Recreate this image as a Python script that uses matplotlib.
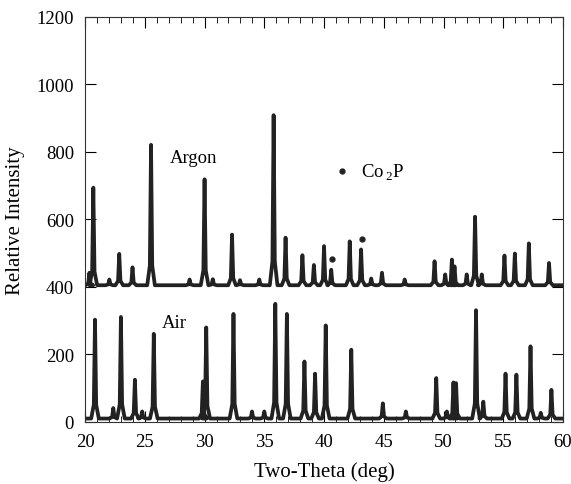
import numpy as np
import matplotlib
matplotlib.use('Agg')
import matplotlib.pyplot as plt
from matplotlib.ticker import MultipleLocator

plt.rcParams['font.family'] = ['Liberation Serif', 'DejaVu Serif']
plt.rcParams['mathtext.fontset'] = 'custom'
plt.rcParams['mathtext.rm'] = 'Liberation Serif'

# Argon pattern (offset +400): peak positions (deg) and peak tops (intensity)
argon_base = 405
argon_pos = [20.36, 20.69, 22.03, 22.86, 23.97, 25.52, 28.75, 30.0, 30.69, 32.3,
             32.97, 34.58, 35.78, 36.78, 38.19, 39.15, 40.0, 40.6, 42.15, 43.1,
             43.95, 44.85, 46.75, 49.25, 50.14, 50.7, 50.92, 51.94, 52.64, 53.2,
             55.1, 55.97, 57.14, 58.83]
argon_top = [442, 694, 422, 498, 458, 821, 422, 719, 423, 555,
             420, 422, 909, 546, 494, 465, 521, 451, 535, 511,
             425, 442, 422, 476, 437, 481, 461, 437, 608, 437,
             493, 499, 529, 471]

# Air pattern
air_base = 10
air_pos = [20.83, 22.36, 23.0, 24.17, 24.78, 25.75, 29.86, 30.14, 32.42, 33.97,
           35.0, 35.92, 36.89, 38.36, 39.25, 40.14, 42.28, 44.92, 46.85, 49.39,
           50.28, 50.83, 51.05, 52.72, 53.33, 55.19, 56.1, 57.28, 58.14, 59.03]
air_top = [303, 41, 311, 125, 31, 261, 120, 280, 320, 31,
           31, 350, 320, 179, 143, 286, 214, 55, 31, 130,
           31, 117, 115, 331, 60, 143, 140, 224, 27, 95]

# Co2P marked peaks
co2p_x = [40.64, 43.2]
co2p_y = [484, 541]


def trace(pos, top, base):
    xs, ys = [20.0], [base]
    for p, h in zip(pos, top):
        xs += [p - 0.32, p - 0.1, p, p + 0.1, p + 0.32]
        ys += [base, base + 0.14 * (h - base), h, base + 0.14 * (h - base), base]
    xs.append(60.0)
    ys.append(base)
    return xs, ys


fig = plt.figure(figsize=(5.71, 4.85), dpi=100)
ax = fig.add_axes([0.149, 0.128, 0.837, 0.835])

xa, ya = trace(argon_pos, argon_top, argon_base)
xb, yb = trace(air_pos, air_top, air_base)
ax.plot(xa, ya, color='#222222', lw=2.7, solid_joinstyle='round')
ax.plot(xb, yb, color='#222222', lw=2.7, solid_joinstyle='round')
ax.plot(co2p_x, co2p_y, 'o', color='#222222', ms=3.5)
ax.plot([41.5], [743], 'o', color='#222222', ms=3.5)

ax.text(27.1, 784, 'Argon', fontsize=13.5, va='center', ha='left')
ax.text(26.4, 294, 'Air', fontsize=13.5, va='center', ha='left')
ax.text(43.1, 740, 'Co$_{\\,2}$P', fontsize=13.5, va='center', ha='left')

ax.set_xlim(20, 60)
ax.set_ylim(0, 1200)
ax.xaxis.set_major_locator(MultipleLocator(5))
ax.xaxis.set_minor_locator(MultipleLocator(1))
ax.yaxis.set_major_locator(MultipleLocator(200))
ax.tick_params(which='both', direction='in', top=True, right=True, labelsize=13.5)
ax.tick_params(which='major', length=8, pad=8)
ax.tick_params(which='minor', length=4)
for s in ax.spines.values():
    s.set_color('#333333')

ax.set_xlabel('Two-Theta (deg)', fontsize=15, labelpad=8)
ax.set_ylabel('Relative Intensity', fontsize=15, labelpad=8)

fig.savefig('out.png', dpi=100)
